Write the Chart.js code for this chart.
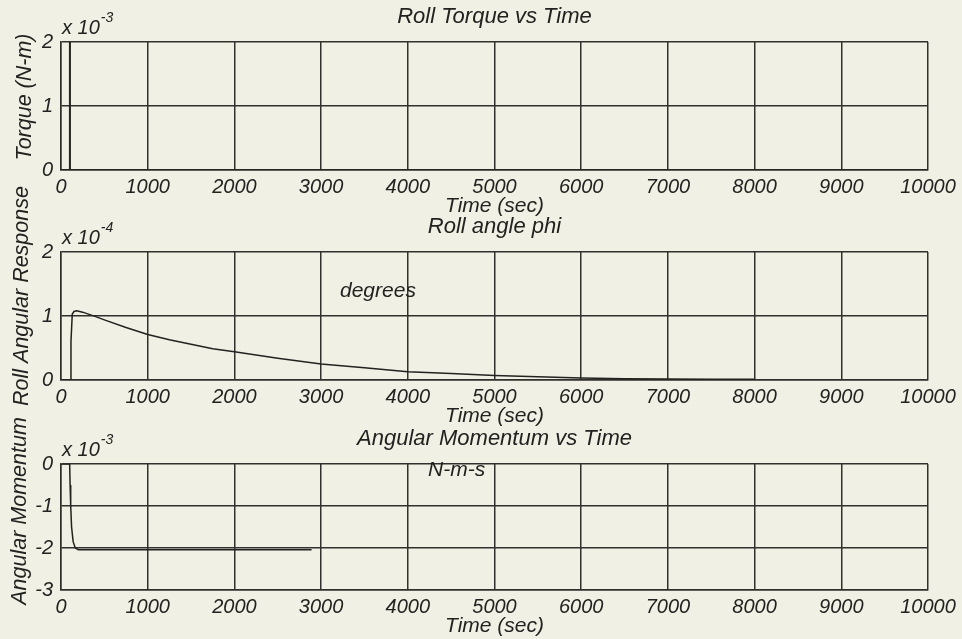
<!DOCTYPE html>
<html>
<head>
<meta charset="utf-8">
<script src="https://cdn.jsdelivr.net/npm/chart.js@4.4.1/dist/chart.umd.min.js"></script>
<style>
  html, body { margin: 0; padding: 0; background: #f1f0e5; }
  #wrap { position: relative; width: 962px; height: 639px; }
  #wrap canvas { position: absolute; left: 0; top: 0; }
</style>
</head>
<body>
<div id="wrap">
  <canvas id="torque" width="962" height="639"></canvas>
  <canvas id="roll" width="962" height="639"></canvas>
  <canvas id="momentum" width="962" height="639"></canvas>
</div>
<script>
// time axis (sec)
var timeTicks = [0, 1000, 2000, 3000, 4000, 5000, 6000, 7000, 8000, 9000, 10000];

// roll torque, x 10^-3 N-m (spike at ~100 s runs off the top of the axis)
var torqueTime = [0, 100, 100, 106, 106, 10000];
var torqueVal = [0, 0, 2.5, 2.5, 0, 0];

// roll angle phi, x 10^-4 degrees
var rollTime = [0, 105, 115, 130, 150, 180, 250, 400, 500, 750, 1000, 1250, 1500, 1750, 2000,
                2500, 3000, 3500, 4000, 4500, 5000, 5500, 6000, 6500, 7000, 7500, 8000];
var rollVal = [0, 0, 0.6, 1.03, 1.07, 1.08, 1.06, 0.99, 0.94, 0.82, 0.71, 0.63, 0.56, 0.49, 0.44,
               0.34, 0.25, 0.19, 0.13, 0.1, 0.07, 0.05, 0.03, 0.02, 0.015, 0.01, 0.01];

// angular momentum, x 10^-3 N-m-s
var momTime = [0, 100, 105, 112, 122, 140, 165, 200, 2890];
var momVal = [0, 0, -0.5, -1.0, -1.5, -1.85, -2.0, -2.04, -2.04];

var ink = '#222220';
var gridInk = '#30302c';
var fam = '"Liberation Sans", Arial, sans-serif';

function pts(xs, ys) {
  return xs.map(function(x, i) { return {x: x, y: ys[i]}; });
}

var notes = {
  id: 'notes',
  afterDraw: function(chart, args, o) {
    var ctx = chart.ctx, a = chart.chartArea;
    ctx.save();
    ctx.fillStyle = ink;
    ctx.textAlign = 'left';
    ctx.textBaseline = 'alphabetic';
    ctx.font = 'italic 20px ' + fam;
    ctx.fillText('x 10', a.left + 1, a.top - 8);
    var w = ctx.measureText('x 10').width;
    ctx.font = 'italic 14px ' + fam;
    ctx.fillText(o.exp, a.left + 2 + w, a.top - 20);
    if (o.note) {
      ctx.font = 'italic 21px ' + fam;
      ctx.fillText(o.note, o.noteX, o.noteY);
    }
    ctx.font = 'italic 21.5px ' + fam;
    ctx.translate(o.labelX, o.labelY);
    ctx.rotate(-Math.PI / 2);
    ctx.textAlign = 'center';
    ctx.textBaseline = 'middle';
    ctx.fillText(o.label, 0, 0);
    ctx.restore();
  }
};

function makeChart(id, cfg) {
  var T = cfg.top, B = cfg.bottom;
  return new Chart(document.getElementById(id), {
    type: 'line',
    data: {
      datasets: [{
        data: pts(cfg.xs, cfg.ys),
        borderColor: ink,
        borderWidth: 1.5,
        pointRadius: 0,
        tension: 0,
        fill: false
      }]
    },
    options: {
      responsive: false,
      animation: false,
      devicePixelRatio: 1,
      layout: { padding: { left: 0, right: 34, top: 0, bottom: Math.max(0, 639 - B - 49) } },
      plugins: {
        legend: { display: false },
        tooltip: { enabled: false },
        title: {
          display: true,
          text: cfg.title,
          fullSize: false,
          color: ink,
          font: { family: fam, size: 22, style: 'italic', weight: 'normal' },
          padding: { top: T - 38.2, bottom: 11.8 }
        },
        notes: cfg.notes
      },
      scales: {
        x: {
          type: 'linear',
          min: 0,
          max: 10000,
          afterFit: function(s) { s.height = 49; },
          afterBuildTicks: function(s) { s.ticks = timeTicks.map(function(v) { return {value: v}; }); },
          ticks: {
            color: ink,
            padding: 5,
            maxRotation: 0,
            font: { family: fam, size: 20, style: 'italic' },
            callback: function(v) { return String(v); }
          },
          grid: { color: gridInk, lineWidth: 1.5, drawTicks: false },
          border: { color: gridInk, width: 1.5 },
          title: {
            display: true,
            text: 'Time (sec)',
            color: ink,
            font: { family: fam, size: 21, style: 'italic' },
            padding: { top: 0, bottom: 0 }
          }
        },
        y: {
          min: cfg.yMin,
          max: cfg.yMax,
          afterFit: function(s) { s.width = 61; },
          ticks: {
            stepSize: 1,
            color: ink,
            padding: 8,
            font: { family: fam, size: 20, style: 'italic' },
            callback: function(v) { return String(v); }
          },
          grid: { color: gridInk, lineWidth: 1.5, drawTicks: false },
          border: { color: gridInk, width: 1.5 }
        }
      }
    },
    plugins: [notes]
  });
}

makeChart('torque', {
  top: 42, bottom: 170, title: 'Roll Torque vs Time',
  xs: torqueTime, ys: torqueVal, yMin: 0, yMax: 2,
  notes: { exp: '-3', label: 'Torque (N-m)', labelX: 25, labelY: 97 }
});

makeChart('roll', {
  top: 252, bottom: 380, title: 'Roll angle phi',
  xs: rollTime, ys: rollVal, yMin: 0, yMax: 2,
  notes: { exp: '-4', label: 'Roll Angular Response', labelX: 22, labelY: 296,
           note: 'degrees', noteX: 340, noteY: 297 }
});

makeChart('momentum', {
  top: 464, bottom: 590, title: 'Angular Momentum vs Time',
  xs: momTime, ys: momVal, yMin: -3, yMax: 0,
  notes: { exp: '-3', label: 'Angular Momentum', labelX: 20, labelY: 511,
           note: 'N-m-s', noteX: 428, noteY: 476 }
});
</script>
</body>
</html>
